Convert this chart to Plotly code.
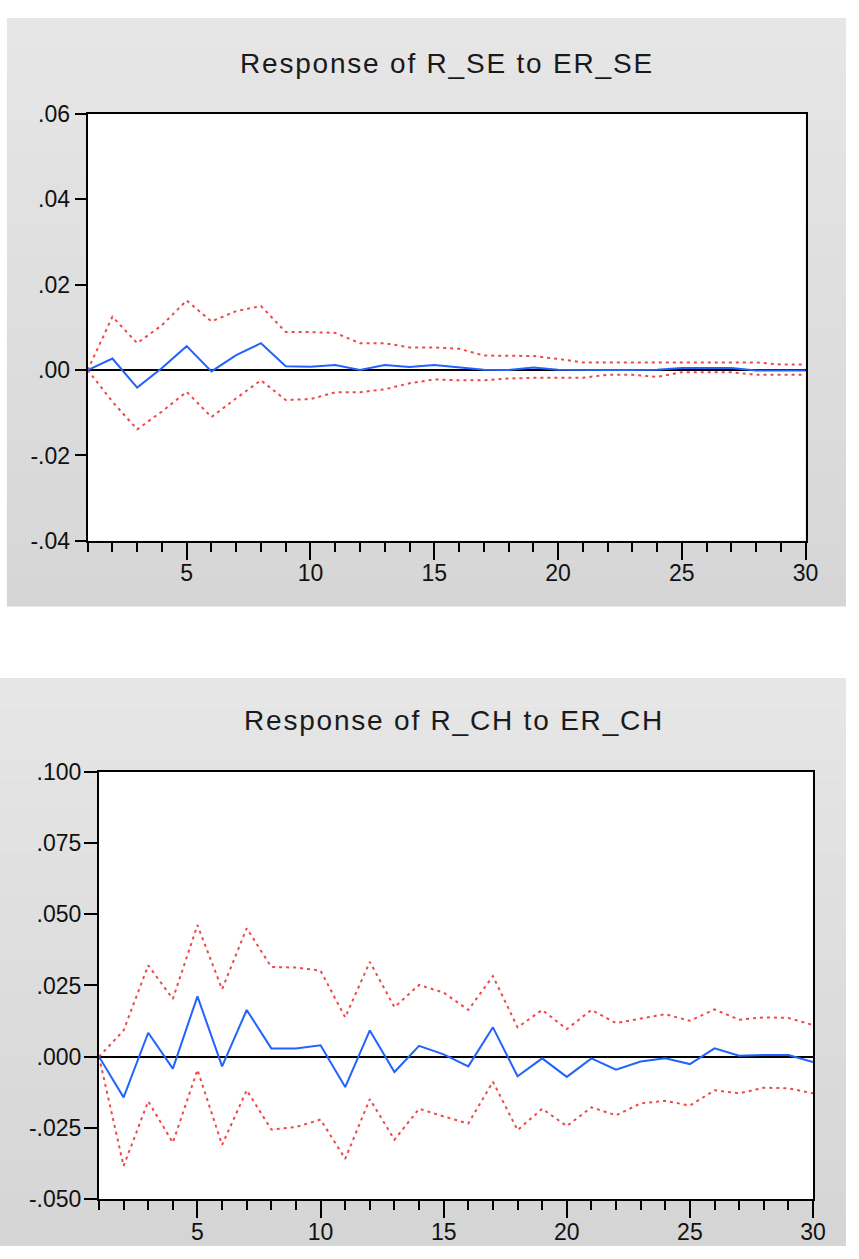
import plotly.graph_objects as go

# ---------------- data ----------------
periods = list(range(1, 31))

se_resp = [0.0, 0.0027, -0.0041, 0.0005, 0.0056, -0.0003, 0.0035, 0.0063, 0.0009, 0.0008,
           0.0012, 0.0, 0.0012, 0.0007, 0.0012, 0.0007, 0.0001, 0.0, 0.0006, 0.0001,
           0.0, 0.0, 0.0, 0.0001, 0.0005, 0.0005, 0.0005, -0.0001, -0.0001, -0.0001]
se_upper = [0.0, 0.0125, 0.0063, 0.0105, 0.0163, 0.0114, 0.0138, 0.0150, 0.0089, 0.0089,
            0.0087, 0.0063, 0.0063, 0.0053, 0.0053, 0.0050, 0.0034, 0.0033, 0.0033, 0.0026,
            0.0018, 0.0018, 0.0018, 0.0018, 0.0018, 0.0018, 0.0018, 0.0018, 0.0013, 0.0013]
se_lower = [0.0, -0.0074, -0.0139, -0.0097, -0.0051, -0.0110, -0.0066, -0.0024, -0.0070, -0.0068,
            -0.0052, -0.0052, -0.0045, -0.0031, -0.0022, -0.0024, -0.0024, -0.0020, -0.0018, -0.0018,
            -0.0018, -0.0011, -0.0011, -0.0016, -0.0005, -0.0005, -0.0005, -0.0011, -0.0011, -0.0011]

ch_resp = [0.0, -0.0143, 0.0084, -0.0042, 0.0212, -0.0034, 0.0164, 0.0029, 0.0029, 0.0040,
           -0.0107, 0.0092, -0.0054, 0.0038, 0.0008, -0.0034, 0.0103, -0.0069, -0.0006, -0.0071,
           -0.0006, -0.0046, -0.0017, -0.0006, -0.0026, 0.0029, 0.0003, 0.0006, 0.0006, -0.0019]
ch_upper = [0.0, 0.0092, 0.0321, 0.0203, 0.0462, 0.0237, 0.0451, 0.0315, 0.0313, 0.0302,
            0.0138, 0.0333, 0.0174, 0.0252, 0.0225, 0.0164, 0.0283, 0.0103, 0.0164, 0.0097,
            0.0164, 0.0118, 0.0134, 0.0149, 0.0126, 0.0166, 0.0130, 0.0138, 0.0136, 0.0111]
ch_lower = [0.0, -0.0384, -0.0157, -0.0302, -0.0046, -0.0310, -0.0118, -0.0256, -0.0247, -0.0221,
            -0.0359, -0.0149, -0.0292, -0.0183, -0.0210, -0.0235, -0.0088, -0.0258, -0.0183, -0.0244,
            -0.0178, -0.0206, -0.0164, -0.0155, -0.0172, -0.0118, -0.0129, -0.0109, -0.0111, -0.0129]

se_title = "Response of R_SE to ER_SE"
ch_title = "Response of R_CH to ER_CH"

se_ytickvals = [0.06, 0.04, 0.02, 0.0, -0.02, -0.04]
se_yticktext = [".06", ".04", ".02", ".00", "-.02", "-.04"]
ch_ytickvals = [0.100, 0.075, 0.050, 0.025, 0.0, -0.025, -0.050]
ch_yticktext = [".100", ".075", ".050", ".025", ".000", "-.025", "-.050"]
xtickvals = [5, 10, 15, 20, 25, 30]
xticktext = ["5", "10", "15", "20", "25", "30"]

# ---------------- layout helpers ----------------
W, H = 859, 1259
def fx(p):
    return p / W
def fy(p):
    return 1 - p / H

BLUE = "#2262ff"
RED = "#f04848"
FONT = "Liberation Sans, Arial, sans-serif"

fig = go.Figure()

def add_panel(resp, up, lo, xa, ya):
    fig.add_trace(go.Scatter(x=periods, y=up, mode="lines", xaxis=xa, yaxis=ya,
                             line=dict(color=RED, width=2, dash="3px,4px"), showlegend=False))
    fig.add_trace(go.Scatter(x=periods, y=lo, mode="lines", xaxis=xa, yaxis=ya,
                             line=dict(color=RED, width=2, dash="3px,4px"), showlegend=False))
    fig.add_trace(go.Scatter(x=periods, y=resp, mode="lines", xaxis=xa, yaxis=ya,
                             line=dict(color=BLUE, width=2), showlegend=False))

add_panel(se_resp, se_upper, se_lower, "x", "y")
add_panel(ch_resp, ch_upper, ch_lower, "x2", "y2")

shapes = []
# gradient panel backgrounds
def gradient(x0, x1, y0, y1, c_top, c_bot, n=40):
    for i in range(n):
        t = i / (n - 1)
        c = int(round(c_top + (c_bot - c_top) * t))
        ya = y0 + (y1 - y0) * i / n
        yb = y0 + (y1 - y0) * (i + 1) / n
        shapes.append(dict(type="rect", xref="paper", yref="paper", layer="below",
                           x0=fx(x0), x1=fx(x1), y0=fy(ya), y1=fy(min(yb + 0.5, y1)),
                           fillcolor=f"rgb({c},{c},{c})", line=dict(width=0)))

gradient(7, 859, 5, 606, 230, 214)
gradient(0, 859, 679, 1259, 230, 213)
# white plot areas
shapes.append(dict(type="rect", xref="paper", yref="paper", layer="below",
                   x0=fx(89), x1=fx(818), y0=fy(539), y1=fy(103),
                   fillcolor="white", line=dict(width=0)))
shapes.append(dict(type="rect", xref="paper", yref="paper", layer="below",
                   x0=fx(100.5), x1=fx(825.5), y0=fy(1211), y1=fy(775),
                   fillcolor="white", line=dict(width=0)))

tickfont = dict(family=FONT, size=23, color="#111111")

def xaxis_cfg(domain, anchor):
    return dict(domain=domain, anchor=anchor, range=[1, 30], showgrid=False, zeroline=False,
                showline=True, linecolor="black", linewidth=2, mirror=True,
                ticks="outside", ticklen=17, tickwidth=2, tickcolor="black",
                tickvals=xtickvals, ticktext=xticktext, tickfont=tickfont,
                ticklabelstandoff=-6,
                minor=dict(dtick=1, tick0=1, ticks="outside", ticklen=9, tickwidth=2,
                           tickcolor="black", showgrid=False),
                fixedrange=True)

def yaxis_cfg(domain, anchor, rng, tv, tt, tl, so):
    return dict(domain=domain, anchor=anchor, range=rng, showgrid=False,
                zeroline=True, zerolinecolor="black", zerolinewidth=2,
                showline=True, linecolor="black", linewidth=2, mirror=True,
                ticks="outside", ticklen=tl, tickwidth=2, tickcolor="black",
                ticklabelstandoff=so,
                tickvals=tv, ticktext=tt, tickfont=tickfont, fixedrange=True)

def spaced(t):
    return '<span style="letter-spacing:1.8px">' + t + '</span>'

fig.update_layout(
    width=W, height=H,
    margin=dict(l=0, r=0, t=0, b=0),
    paper_bgcolor="white", plot_bgcolor="white",
    xaxis=xaxis_cfg([fx(89), fx(818)], "y"),
    yaxis=yaxis_cfg([fy(539), fy(103)], "x", [-0.04, 0.06], se_ytickvals, se_yticktext, 11, 0),
    xaxis2=xaxis_cfg([fx(100.5), fx(825.5)], "y2"),
    yaxis2=yaxis_cfg([fy(1211), fy(775)], "x2", [-0.05, 0.10], ch_ytickvals, ch_yticktext, 13, -2),
    shapes=shapes,
    annotations=[
        dict(text=spaced(se_title), xref="paper", yref="paper", x=fx(454), y=fy(52),
             xanchor="center", yanchor="middle", showarrow=False,
             font=dict(family=FONT, size=28, color="#1a1a1a")),
        dict(text=spaced(ch_title), xref="paper", yref="paper", x=fx(461), y=fy(722),
             xanchor="center", yanchor="middle", showarrow=False,
             font=dict(family=FONT, size=28, color="#1a1a1a")),
    ],
)

fig.write_html("out.html",
               post_script="document.body.style.margin='0';document.documentElement.style.margin='0';")
